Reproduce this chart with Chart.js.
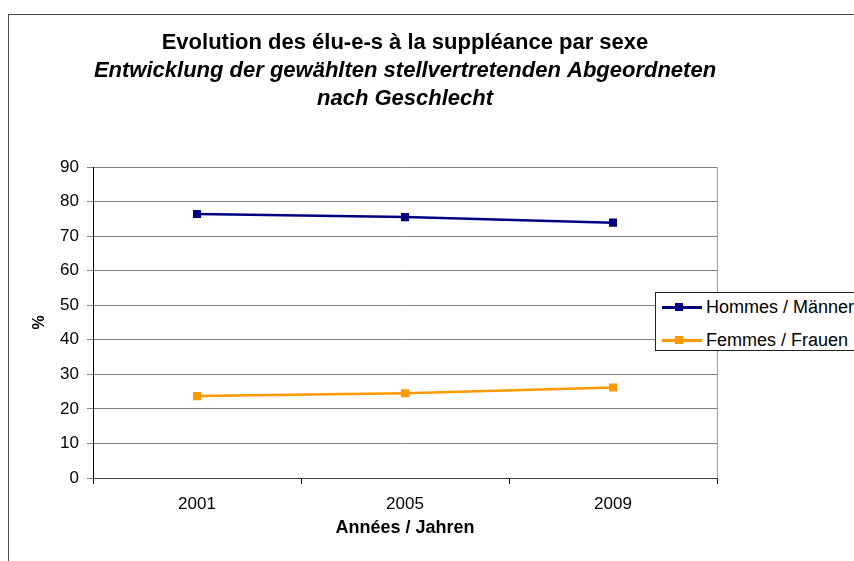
<!DOCTYPE html>
<html><head><meta charset="utf-8">
<script src="https://cdn.jsdelivr.net/npm/chart.js@4.4.1/dist/chart.umd.min.js"></script>
<style>
html,body{margin:0;padding:0;background:#fff;overflow:hidden;width:854px;height:561px}
#frame{position:absolute;left:8px;top:14px;width:900px;height:600px;border:1px solid #4a4a4a;box-sizing:border-box}
#wrap{position:absolute;left:0;top:0;width:854px;height:561px}
#legend{position:absolute;left:655px;top:292px;width:230px;height:57px;border:1px solid #222;background:#fff;font-family:"Liberation Sans",Arial,sans-serif;font-size:18px;color:#000}
.item{position:absolute;left:0;height:22px;display:flex;align-items:center;white-space:nowrap}
.sample{position:relative;width:40px;height:3px;margin-left:6px;margin-right:4px}
.sample i{position:absolute;left:13px;top:-2.5px;width:8px;height:8px}
</style></head><body>
<div id="frame"></div>
<div id="wrap"><canvas id="c" width="854" height="561"></canvas></div>
<div id="legend"></div>
<script>
const categories = ['2001', '2005', '2009'];
const hommes = [76.4, 75.5, 73.9];
const femmes = [23.7, 24.5, 26.2];
const seriesNames = ['Hommes / Männer', 'Femmes / Frauen'];
const seriesColors = ['#000080', '#FF9900'];
const yMin = 0, yMax = 90, yStep = 10;
const titleText = 'Evolution des élu-e-s à la suppléance par sexe';
const subtitleText = ['Entwicklung der gewählten stellvertretenden Abgeordneten', 'nach Geschlecht'];
const xTitle = 'Années / Jahren';
const yTitle = '%';

const FONT = '"Liberation Sans", Arial, sans-serif';

const plotRightBorder = {
  id: 'plotRightBorder',
  beforeDatasetsDraw(chart) {
    const {ctx, chartArea: a} = chart;
    ctx.save();
    ctx.strokeStyle = '#a0a0a0';
    ctx.lineWidth = 1;
    const x = Math.round(a.right) + 0.5;
    ctx.beginPath();
    ctx.moveTo(x, a.top);
    ctx.lineTo(x, a.bottom);
    ctx.stroke();
    ctx.restore();
  }
};

const mk = (label, data, color) => ({
  label, data,
  borderColor: color, backgroundColor: color,
  borderWidth: 2.5, tension: 0,
  pointStyle: 'rect', pointRadius: 5.7, pointHoverRadius: 5.7,
  pointBackgroundColor: color, pointBorderColor: color, pointBorderWidth: 0
});

const chart = new Chart(document.getElementById('c'), {
  type: 'line',
  data: {
    labels: categories,
    datasets: [mk(seriesNames[0], hommes, seriesColors[0]), mk(seriesNames[1], femmes, seriesColors[1])]
  },
  options: {
    responsive: false, animation: false, devicePixelRatio: 1,
    layout: {padding: {left: 0, right: 137, top: 0, bottom: 0}},
    plugins: {
      legend: {display: false},
      tooltip: {enabled: false},
      title: {display: true, text: titleText, color: '#000', fullSize: false,
        font: {family: FONT, size: 22, weight: 'bold', lineHeight: 1.2},
        padding: {top: 30, bottom: 0}},
      subtitle: {display: true, text: subtitleText, color: '#000', fullSize: false,
        font: {family: FONT, size: 22, weight: 'bold', style: 'italic', lineHeight: 28 / 22},
        padding: {top: 1, bottom: 53.6}}
    },
    scales: {
      x: {
        offset: true,
        afterFit(s) { s.height = 83; },
        grid: {offset: true, drawOnChartArea: false, drawTicks: true, tickLength: 6, color: '#000', lineWidth: 1},
        border: {display: true, color: '#404040', width: 1},
        ticks: {color: '#000', padding: 10, font: {family: FONT, size: 17}},
        title: {display: true, text: xTitle, color: '#000', font: {family: FONT, size: 18, weight: 'bold'}, padding: {top: 0, bottom: 22}}
      },
      y: {
        min: yMin, max: yMax,
        afterFit(s) { s.width = 93; },
        grid: {color: '#808080', lineWidth: 1, drawTicks: true, tickLength: 6, tickColor: '#808080'},
        border: {display: true, color: '#000', width: 1},
        ticks: {stepSize: yStep, color: '#000', padding: 8, font: {family: FONT, size: 17}},
        title: {display: true, text: yTitle, color: '#000', font: {family: FONT, size: 16, weight: 'bold'}, padding: {top: 30, bottom: 0}}
      }
    }
  },
  plugins: [plotRightBorder]
});

// HTML legend built from the chart's datasets
const lg = document.getElementById('legend');
chart.data.datasets.forEach((ds, i) => {
  const it = document.createElement('div');
  it.className = 'item';
  it.style.top = (3 + i * 33) + 'px';
  const s = document.createElement('span');
  s.className = 'sample';
  s.style.background = ds.borderColor;
  const m = document.createElement('i');
  m.style.background = ds.borderColor;
  s.appendChild(m);
  const t = document.createElement('span');
  t.textContent = ds.label;
  it.appendChild(s); it.appendChild(t);
  lg.appendChild(it);
});
</script>
</body></html>
